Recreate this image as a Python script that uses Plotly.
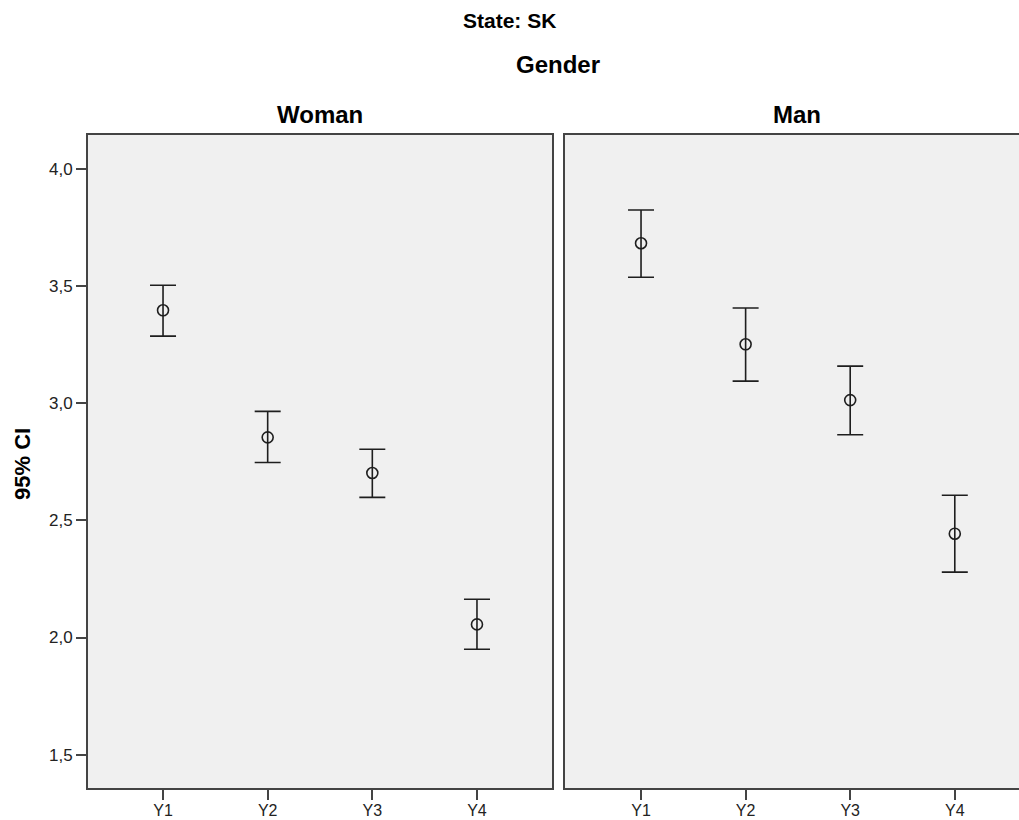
import plotly.graph_objects as go

categories = ["Y1", "Y2", "Y3", "Y4"]
woman_mean = [3.396, 2.854, 2.702, 2.056]
woman_upper = [3.503, 2.965, 2.803, 2.163]
woman_lower = [3.286, 2.747, 2.598, 1.950]
man_mean = [3.682, 3.251, 3.013, 2.443]
man_upper = [3.824, 3.406, 3.158, 2.607]
man_lower = [3.537, 3.094, 2.865, 2.279]
y_ticks = [1.5, 2.0, 2.5, 3.0, 3.5, 4.0]

W, H = 1019, 820
ink = "#1e1e1e"
frame = "#444444"
font = "Liberation Sans, Arial, sans-serif"


def trace(means, upper, lower, xa, ya):
    return go.Scatter(
        x=list(range(len(categories))), y=means, xaxis=xa, yaxis=ya,
        mode="markers",
        marker=dict(symbol="circle-open", size=11, color=ink, line=dict(width=1.6, color=ink)),
        error_y=dict(type="data", symmetric=False,
                     array=[u - m for u, m in zip(upper, means)],
                     arrayminus=[m - l for m, l in zip(means, lower)],
                     color=ink, thickness=1.6, width=13),
        showlegend=False, hoverinfo="skip",
    )


fig = go.Figure()
fig.add_trace(trace(woman_mean, woman_upper, woman_lower, "x", "y"))
fig.add_trace(trace(man_mean, man_upper, man_lower, "x2", "y2"))

ymin, ymax = 1.358, 4.144
top, bot = 135, 788
ydom = [1 - bot / H, 1 - top / H]

ytickfont = dict(family=font, size=17, color="#222222")
xtickfont = dict(family=font, size=16, color="#222222")
xcommon = dict(tickmode="array", tickvals=list(range(4)), ticktext=categories,
               ticks="outside", ticklen=10, tickwidth=2, tickcolor=frame,
               ticklabelstandoff=-3,
               showgrid=False, zeroline=False, showline=True, linecolor=frame, linewidth=2,
               mirror=True, tickfont=xtickfont)
ycommon = dict(range=[ymin, ymax], showgrid=False, zeroline=False, showline=True,
               linecolor=frame, linewidth=2)

fig.update_layout(
    width=W, height=H, margin=dict(l=0, r=0, t=0, b=0, autoexpand=False),
    paper_bgcolor="white", plot_bgcolor="#f0f0f0",
    separators=",.",
    xaxis=dict(domain=[88 / W, 552 / W], range=[-0.717, 3.717], anchor="y", **xcommon),
    yaxis=dict(domain=ydom, anchor="x", tickmode="array", tickvals=y_ticks,
               tickformat=".1f", ticks="outside", ticklen=10, tickwidth=2, tickcolor=frame,
               tickfont=ytickfont, mirror=True, **ycommon),
    xaxis2=dict(domain=[565 / W, 1.0], range=[-0.727, 3.614], anchor="y2", **xcommon),
    yaxis2=dict(domain=ydom, anchor="x2", showticklabels=False, ticks="", mirror=False, **ycommon),
)

ann = [
    dict(text="<b>State: SK</b>", x=509.5 / W, y=1 - 20.5 / H, size=21),
    dict(text="<b>Gender</b>", x=558 / W, y=1 - 65 / H, size=24),
    dict(text="<b>Woman</b>", x=320 / W, y=1 - 114 / H, size=24),
    dict(text="<b>Man</b>", x=797 / W, y=1 - 114 / H, size=24),
]
for a in ann:
    fig.add_annotation(text=a["text"], x=a["x"], y=a["y"], xref="paper", yref="paper",
                       xanchor="center", yanchor="middle", showarrow=False,
                       font=dict(family=font, size=a["size"], color="#000000"))

fig.add_annotation(text="<b>95% CI</b>", x=23 / W, y=1 - 464 / H, xref="paper", yref="paper",
                   xanchor="center", yanchor="middle", showarrow=False, textangle=-90,
                   font=dict(family=font, size=22, color="#000000"))

fig.write_html("out.html", config={"displayModeBar": False},
               post_script="document.body.style.margin='0';document.body.style.overflow='hidden';")
